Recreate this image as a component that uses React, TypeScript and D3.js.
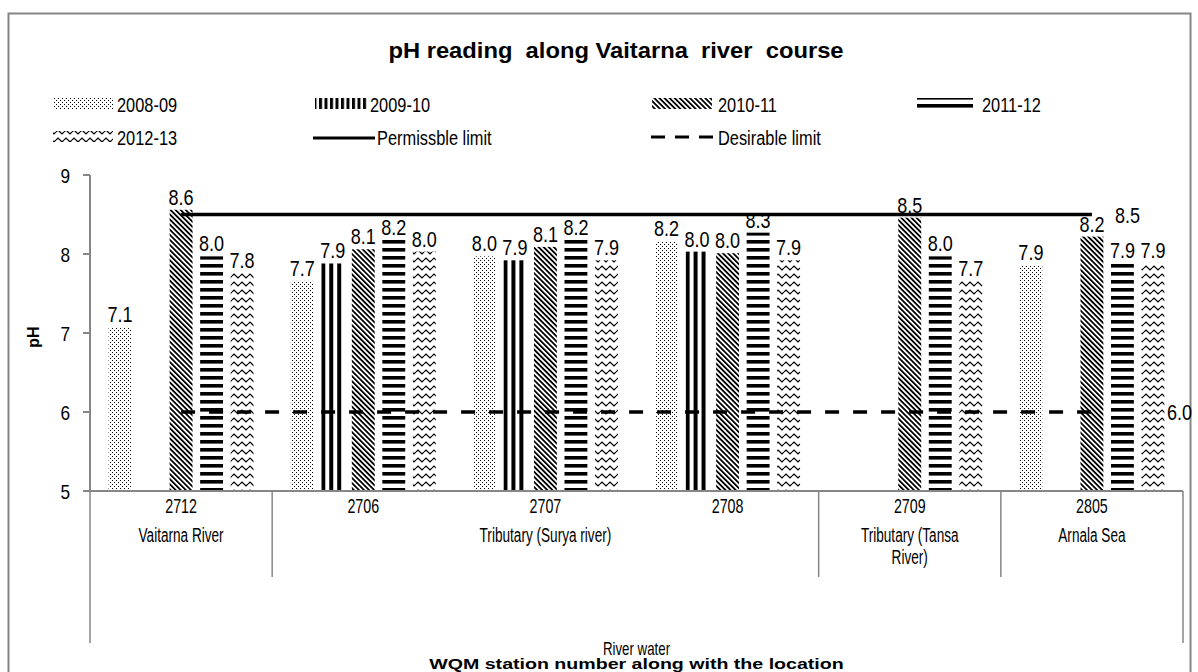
import React from "react";
import * as d3 from "d3";

const stations = ["2712", "2706", "2707", "2708", "2709", "2805"];
const locationGroups = [
  { lines: ["Vaitarna River"], start: 0, end: 0 },
  { lines: ["Tributary (Surya river)"], start: 1, end: 3 },
  { lines: ["Tributary (Tansa", "River)"], start: 4, end: 4 },
  { lines: ["Arnala Sea"], start: 5, end: 5 },
];
const waterType = "River water";
const seriesNames = ["2008-09", "2009-10", "2010-11", "2011-12", "2012-13"];
const v2008 = [7.07, 7.66, 7.97, 8.16, null, 7.86];
const v2009 = [null, 7.88, 7.92, 8.03, null, null];
const v2010 = [8.56, 8.06, 8.09, 8.01, 8.46, 8.22];
const v2011 = [7.97, 8.18, 8.18, 8.27, 7.97, 7.89];
const v2012 = [7.76, 8.03, 7.92, 7.92, 7.66, 7.89];
const seriesValues = [v2008, v2009, v2010, v2011, v2012];
const permissible = [8.5, 8.5, 8.5, 8.5, 8.5, 8.5];
const desirable = [6, 6, 6, 6, 6, 6];
const yTicks = [5, 6, 7, 8, 9];
const patternIds = ["pDots", "pVert", "pDiag", "pHoriz", "pWave"];
const legendPatternIds = ["pDots", "pVertLeg", "pDiag", "pHoriz", "pWave"];

const FONT = "'Liberation Sans', Arial, sans-serif";
const AXIS = "#868686";

function T({ x, y, size, sx = 0.8, anchor = "middle", bold = false, children }: any) {
  return (
    <text
      transform={`translate(${x},${y}) scale(${sx},1)`}
      fontSize={size}
      textAnchor={anchor}
      fontWeight={bold ? "bold" : "normal"}
      fontFamily={FONT}
      fill="#000"
      style={{ whiteSpace: "pre" }}
    >
      {children}
    </text>
  );
}

export default function App() {
  const left = 90, right = 1183, top = 175, bottom = 491;
  const x0 = d3.scaleBand<string>().domain(stations).range([left, right]).padding(0);
  const x1 = d3
    .scaleBand<string>()
    .domain(seriesNames)
    .range([0, x0.bandwidth()])
    .paddingInner(0.25)
    .paddingOuter(0.61);
  const y = d3.scaleLinear().domain([5, 9]).range([bottom, top]);
  const cx = (i: number) => (x0(stations[i]) as number) + x0.bandwidth() / 2;

  const line = d3
    .line<number>()
    .x((_, i) => cx(i))
    .y((d) => y(d));

  const lastX = cx(stations.length - 1);

  const legendRow1 = 104, legendRow2 = 137;
  const legend = [
    { kind: "bar", s: 0, x: 53, w: 60, y: legendRow1, tx: 117 },
    { kind: "bar", s: 1, x: 315, w: 52, y: legendRow1, tx: 370 },
    { kind: "bar", s: 2, x: 652, w: 60, y: legendRow1, tx: 718 },
    { kind: "bar", s: 3, x: 917, w: 56, y: legendRow1, tx: 982 },
    { kind: "bar", s: 4, x: 53, w: 60, y: legendRow2, tx: 117 },
    { kind: "solid", label: "Permissble limit", x: 313, w: 62, y: legendRow2, tx: 377 },
    { kind: "dash", label: "Desirable limit", x: 651, w: 62, y: legendRow2, tx: 718 },
  ];

  return (
    <svg
      width={1198}
      height={672}
      style={{ position: "absolute", left: 0, top: 0, background: "#fff" }}
    >
      <defs>
        <pattern id="pDots" patternUnits="userSpaceOnUse" width={4} height={4}>
          <rect x={0} y={0} width={1} height={1} fill="#000" />
          <rect x={2} y={2} width={1} height={1} fill="#000" />
        </pattern>
        <pattern id="pVert" patternUnits="objectBoundingBox" x={0} y={0} width={8 / 23} height={1}>
          <rect x={0} y={0} width={4} height={1000} fill="#000" />
        </pattern>
        <pattern id="pVertLeg" patternUnits="userSpaceOnUse" width={5.5} height={20}>
          <rect x={0} y={0} width={3} height={20} fill="#000" />
        </pattern>
        <pattern id="pDiag" patternUnits="userSpaceOnUse" width={3.6} height={3.6} patternTransform="rotate(-45)">
          <rect x={0} y={0} width={1.8} height={3.6} fill="#000" />
        </pattern>
        <pattern id="pHoriz" patternUnits="userSpaceOnUse" width={8} height={8}>
          <rect x={0} y={0} width={8} height={3.6} fill="#000" />
        </pattern>
        <pattern id="pWave" patternUnits="userSpaceOnUse" width={8} height={8}>
          <path d="M0,4 L2,2 L4,4 L6,6 L8,4" fill="none" stroke="#000" strokeWidth={1.1} />
        </pattern>
      </defs>

      {/* outer border */}
      <rect x={8.5} y={13.5} width={1182} height={700} fill="none" stroke={AXIS} strokeWidth={2} />

      {/* title */}
      <T x={616} y={58} size={22} sx={1.08} bold>
        {"pH reading  along Vaitarna  river  course"}
      </T>

      {/* legend */}
      {legend.map((l, i) => (
        <g key={i}>
          {l.kind === "bar" && (
            <rect x={l.x} y={l.y - 6} width={l.w} height={11} fill={`url(#${legendPatternIds[l.s as number]})`} />
          )}
          {l.kind === "solid" && (
            <line x1={l.x} x2={l.x + l.w} y1={l.y + 1} y2={l.y + 1} stroke="#000" strokeWidth={3} />
          )}
          {l.kind === "dash" && (
            <line x1={l.x} x2={l.x + l.w} y1={l.y} y2={l.y} stroke="#000" strokeWidth={3} strokeDasharray="14 10" />
          )}
          <T x={l.tx} y={l.y + 8} size={21} sx={0.78} anchor="start">
            {l.kind === "bar" ? seriesNames[l.s as number] : l.label}
          </T>
        </g>
      ))}

      {/* y axis */}
      <line x1={left} x2={left} y1={top} y2={bottom} stroke={AXIS} strokeWidth={2} />
      {yTicks.map((t) => (
        <g key={t}>
          <line x1={left - 7} x2={left} y1={y(t)} y2={y(t)} stroke={AXIS} strokeWidth={2} />
          <T x={70} y={y(t) + 7.5} size={21} sx={0.82} anchor="end">
            {String(t)}
          </T>
        </g>
      ))}
      <text
        transform={`translate(39,337) rotate(-90)`}
        fontSize={16}
        fontWeight="bold"
        fontFamily={FONT}
        textAnchor="middle"
      >
        pH
      </text>

      {/* bars */}
      {seriesValues.map((vals, s) =>
        vals.map((v, i) =>
          v == null ? null : (
            <rect
              key={`${s}-${i}`}
              x={(x0(stations[i]) as number) + (x1(seriesNames[s]) as number)}
              y={y(v)}
              width={x1.bandwidth()}
              height={y(5) - y(v)}
              fill={`url(#${patternIds[s]})`}
            />
          )
        )
      )}

      {/* limit lines */}
      <path d={line(permissible) as string} fill="none" stroke="#000" strokeWidth={3.5} />
      <path d={line(desirable) as string} fill="none" stroke="#000" strokeWidth={3.5} strokeDasharray="14 14" />
      <T x={lastX + 23} y={y(permissible[5]) + 8} size={22} sx={0.82} anchor="start">
        {permissible[5].toFixed(1)}
      </T>
      <T x={lastX + 75} y={y(desirable[5]) + 8} size={22} sx={0.82} anchor="start">
        {desirable[5].toFixed(1)}
      </T>

      {/* bar labels */}
      {seriesValues.map((vals, s) =>
        vals.map((v, i) =>
          v == null ? null : (
            <T
              key={`l${s}-${i}`}
              x={(x0(stations[i]) as number) + (x1(seriesNames[s]) as number) + x1.bandwidth() / 2}
              y={y(v) - 5}
              size={22}
              sx={0.82}
            >
              {v.toFixed(1)}
            </T>
          )
        )
      )}

      {/* x axis */}
      <line x1={left} x2={right} y1={bottom} y2={bottom} stroke={AXIS} strokeWidth={2} />
      <line x1={left} x2={left} y1={bottom} y2={643} stroke={AXIS} strokeWidth={1.5} />
      <line x1={right} x2={right} y1={bottom} y2={643} stroke={AXIS} strokeWidth={1.5} />
      {locationGroups.slice(1).map((g, k) => (
        <line
          key={k}
          x1={x0(stations[g.start]) as number}
          x2={x0(stations[g.start]) as number}
          y1={bottom}
          y2={577}
          stroke={AXIS}
          strokeWidth={1.5}
        />
      ))}
      {stations.map((s, i) => (
        <T key={s} x={cx(i)} y={513} size={21} sx={0.68}>
          {s}
        </T>
      ))}
      {locationGroups.map((g, k) => {
        const gx = ((x0(stations[g.start]) as number) + (x0(stations[g.end]) as number) + x0.bandwidth()) / 2;
        return g.lines.map((ln, j) => (
          <T key={`${k}-${j}`} x={gx} y={542 + j * 22} size={20} sx={0.68}>
            {ln}
          </T>
        ));
      })}
      <T x={(left + right) / 2} y={655} size={19} sx={0.7}>
        {waterType}
      </T>
      <T x={(left + right) / 2} y={669} size={14} sx={1.4} bold>
        WQM station number along with the location
      </T>
    </svg>
  );
}
